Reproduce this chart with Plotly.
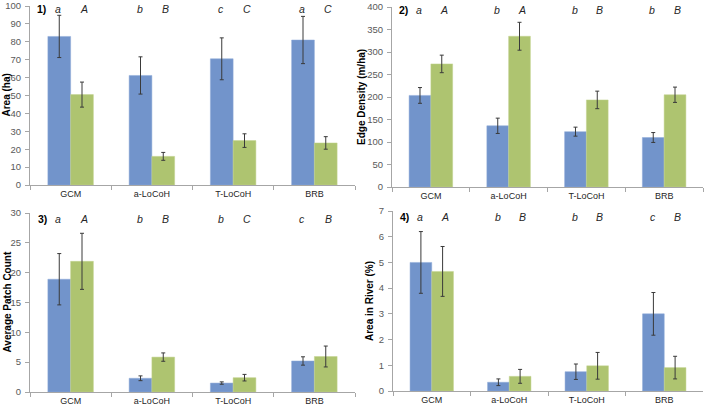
import plotly.graph_objects as go

categories = ["GCM", "a-LoCoH", "T-LoCoH", "BRB"]

area_blue = [83.0, 61.2, 70.5, 81.0]
area_blue_err = [11.8, 10.4, 11.7, 13.2]
area_green = [50.5, 16.0, 24.8, 23.5]
area_green_err = [7.0, 2.2, 3.8, 3.5]
area_letters_blue = ["a", "b", "c", "a"]
area_letters_green = ["A", "B", "C", "C"]

edge_blue = [203.5, 136.0, 123.0, 110.0]
edge_blue_err = [17.5, 17.0, 10.0, 11.0]
edge_green = [273.5, 335.0, 193.5, 205.0]
edge_green_err = [19.5, 31.0, 19.5, 17.0]
edge_letters_blue = ["a", "b", "b", "b"]
edge_letters_green = ["A", "A", "B", "B"]

patch_blue = [18.9, 2.3, 1.5, 5.2]
patch_blue_err = [4.3, 0.4, 0.2, 0.7]
patch_green = [21.9, 5.85, 2.4, 5.95]
patch_green_err = [4.7, 0.7, 0.55, 1.75]
patch_letters_blue = ["a", "b", "b", "c"]
patch_letters_green = ["A", "B", "C", "B"]

river_blue = [5.0, 0.34, 0.75, 3.0]
river_blue_err = [1.2, 0.13, 0.3, 0.83]
river_green = [4.65, 0.57, 0.98, 0.91]
river_green_err = [0.97, 0.27, 0.52, 0.44]
river_letters_blue = ["a", "b", "b", "c"]
river_letters_green = ["A", "B", "B", "B"]

BLUE = "#7294CB"
GREEN = "#AEC470"
W, H = 713, 408

panels = [
    dict(blue=area_blue, be=area_blue_err, green=area_green, ge=area_green_err,
         lb=area_letters_blue, lg=area_letters_green, ymax=100, dtick=10,
         title="Area (ha)", label="1)", xd=(30, 355), yd=(6, 185), ly=9, tx=6, lx=35),
    dict(blue=edge_blue, be=edge_blue_err, green=edge_green, ge=edge_green_err,
         lb=edge_letters_blue, lg=edge_letters_green, ymax=400, dtick=50,
         title="Edge Density (m/ha)", label="2)", xd=(392, 703), yd=(7, 187), ly=10, tx=361, lx=397),
    dict(blue=patch_blue, be=patch_blue_err, green=patch_green, ge=patch_green_err,
         lb=patch_letters_blue, lg=patch_letters_green, ymax=30, dtick=5,
         title="Average Patch Count", label="3)", xd=(30, 355), yd=(213, 392), ly=219, tx=7, lx=36),
    dict(blue=river_blue, be=river_blue_err, green=river_green, ge=river_green_err,
         lb=river_letters_blue, lg=river_letters_green, ymax=7, dtick=1,
         title="Area in River (%)", label="4)", xd=(393, 703), yd=(211, 391), ly=217, tx=369, lx=398),
]

fig = go.Figure()
annotations = []
FONT = "Liberation Sans, Arial, sans-serif"

for i, p in enumerate(panels):
    n = i + 1
    xa = "x" if n == 1 else f"x{n}"
    ya = "y" if n == 1 else f"y{n}"
    err_style = dict(type="data", thickness=1, width=2, color="#3a3a3a")
    fig.add_trace(go.Bar(x=categories, y=p["blue"], marker=dict(color=BLUE, line=dict(color="#8eaad8", width=0.5)),
                         error_y=dict(array=p["be"], **err_style), xaxis=xa, yaxis=ya, showlegend=False))
    fig.add_trace(go.Bar(x=categories, y=p["green"], marker=dict(color=GREEN, line=dict(color="#c3d38f", width=0.5)),
                         error_y=dict(array=p["ge"], **err_style), xaxis=xa, yaxis=ya, showlegend=False))
    x0, x1 = p["xd"]
    y0, y1 = p["yd"]
    axis_suffix = "" if n == 1 else str(n)
    fig.update_layout(**{
        f"xaxis{axis_suffix}": dict(domain=[x0 / W, x1 / W], anchor=ya, type="category", automargin=False,
                                    showline=True, linecolor="#a6a6a6", linewidth=1,
                                    ticks="outside", tickson="boundaries", ticklen=4, tickcolor="#a6a6a6",
                                    tickfont=dict(size=9, color="#262626", family=FONT), showgrid=False,
                                    fixedrange=True),
        f"yaxis{axis_suffix}": dict(domain=[1 - y1 / H, 1 - y0 / H], anchor=xa, range=[0, p["ymax"]],
                                    automargin=False,
                                    dtick=p["dtick"], showline=True, linecolor="#a6a6a6", linewidth=1,
                                    ticks="outside", ticklen=4, tickcolor="#a6a6a6", showgrid=False,
                                    zeroline=False, ticklabelstandoff=2,
                                    tickfont=dict(size=9.5, color="#595959", family=FONT)),
    })
    ly_dom = (y1 - p["ly"]) / (y1 - y0)
    for k, c in enumerate(categories):
        annotations.append(dict(x=k - 0.15, y=ly_dom, xref=xa, yref=f"{ya} domain", text="<i>" + p["lb"][k] + "</i>",
                                showarrow=False, font=dict(size=10.5, color="#262626", family=FONT),
                                xanchor="center", yanchor="middle"))
        annotations.append(dict(x=k + 0.17, y=ly_dom, xref=xa, yref=f"{ya} domain", text="<i>" + p["lg"][k] + "</i>",
                                showarrow=False, font=dict(size=10.5, color="#262626", family=FONT),
                                xanchor="center", yanchor="middle"))
    annotations.append(dict(x=p["lx"] / W, y=1 - p["ly"] / H, xref="paper", yref="paper",
                            text="<b>" + p["label"] + "</b>", showarrow=False, xanchor="left", yanchor="middle",
                            font=dict(size=10.5, color="#000000", family=FONT)))
    annotations.append(dict(x=p["tx"] / W, y=1 - (y0 + y1) / 2 / H, xref="paper", yref="paper",
                            text="<b>" + p["title"] + "</b>", showarrow=False, textangle=-90,
                            xanchor="center", yanchor="middle",
                            font=dict(size=10, color="#000000", family=FONT)))

fig.update_layout(width=W, height=H, margin=dict(l=0, r=0, t=0, b=0, autoexpand=False),
                  paper_bgcolor="white", plot_bgcolor="white",
                  barmode="group", bargap=0.44, bargroupgap=0,
                  annotations=annotations, font=dict(family=FONT))

fig.write_html("out.html", config={"displayModeBar": False},
               post_script="document.body.style.margin='0';document.body.style.overflow='hidden';")
